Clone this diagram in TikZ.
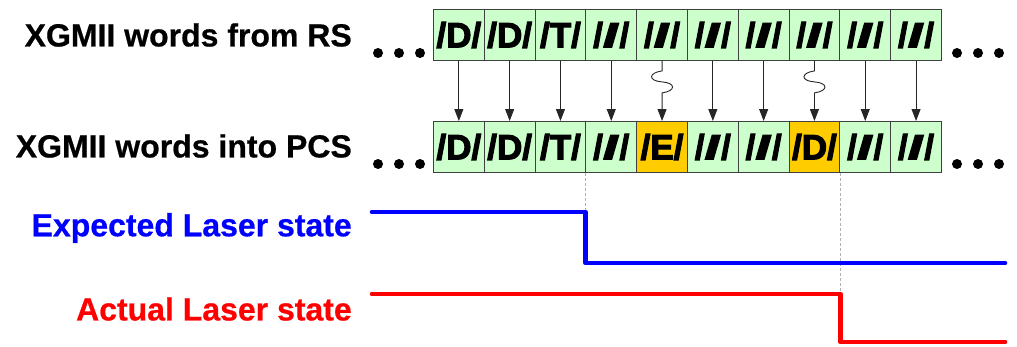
\documentclass[tikz,border=0pt]{standalone}
\usepackage{fontspec}
\setmainfont{Liberation Sans}
\newfontfamily\labelfont[FakeBold=0.6]{Liberation Sans Bold}
\newfontfamily\wordfont[FakeBold=3.2]{Liberation Sans Bold}
\newfontfamily\idlefont[FakeBold=3.2]{Liberation Sans Bold Italic}
\newcommand\idleword{/\scalebox{1.5}[1]{\idlefont I}\kern2pt/}
\usetikzlibrary{arrows.meta}
\definecolor{wordgreen}{HTML}{CCFFCC}
\definecolor{wordorange}{HTML}{FFCC00}
\definecolor{guidegray}{HTML}{B0B0B0}
\begin{document}
\begin{tikzpicture}[x=1pt,y=-1pt,
  word/.style={draw=black!75, line width=0.9pt, fill=wordgreen, minimum width=50.8pt,
    minimum height=51pt, inner sep=0pt, anchor=north west,
    font=\fontsize{35}{40}\selectfont\wordfont},
  errword/.style={word, fill=wordorange},
  rowlabel/.style={anchor=east, inner sep=0pt, font=\fontsize{32}{36}\selectfont\labelfont},
  pass/.style={draw=black!85, line width=0.9pt, -{Triangle[length=12pt,width=9pt]}},
  dot/.style={fill=black, draw=none, circle, minimum size=10pt, inner sep=0pt},
  guide/.style={draw=guidegray, line width=0.8pt, dash pattern=on 3pt off 2pt},
  laser/.style={line width=4.6pt, line cap=round, line join=round}
]
\useasboundingbox (0,0) rectangle (1017,346);

% row labels
\node[rowlabel] (lrs)  at (352,35)  {XGMII words from RS};
\node[rowlabel] (lpcs) at (352,146) {XGMII words into PCS};
\node[rowlabel, text=blue] (lexp) at (352,228) {Expected Laser state};
\node[rowlabel, text=red]  (lact) at (352,309) {Actual Laser state};

% word streams
\foreach \i/\t in {1/D,2/D,3/T} {
  \node[word] (top\i) at ({433+(\i-1)*50.8},9) {/\t/};
  \node[word] (bot\i) at ({433+(\i-1)*50.8},121) {/\t/};
}
\foreach \i in {4,...,10} {
  \node[word] (top\i) at ({433+(\i-1)*50.8},9) {\idleword};
}
\foreach \i in {4,6,7,9,10} {
  \node[word] (bot\i) at ({433+(\i-1)*50.8},121) {\idleword};
}
\node[errword] (bot5) at ({433+4*50.8},121) {/E/};
\node[errword] (bot8) at ({433+7*50.8},121) {/D/};

% straight pass-through
\foreach \i in {1,2,3,4,6,7,9,10} {
  \draw[pass] (top\i.south) -- (bot\i.north);
}
% corrupted words: wavy pass-through
\foreach \i in {5,8} {
  \draw[pass] (top\i.south) -- ++(0,10)
    .. controls +(-14,2) and +(-14,-1) .. ++(0,11)
    .. controls +(14,1) and +(14,-2) .. ++(0,11)
    -- (bot\i.north);
}

% ellipses
\foreach \r/\y in {t/53,b/164} {
  \foreach \k/\x in {1/378,2/399,3/420} {
    \node[dot] (l\r\k) at (\x,\y) {};
  }
  \foreach \k/\x in {1/957,2/978,3/999} {
    \node[dot] (r\r\k) at (\x,\y) {};
  }
}

% laser state traces
\coordinate (e0) at (372,212);
\coordinate (e1) at (bot4.south west |- e0);
\coordinate (e2) at (bot4.south west |- 0,263);
\coordinate (e3) at (1005,263);
\coordinate (a0) at (372,294);
\coordinate (a1) at (bot8.south east |- a0);
\coordinate (a2) at (bot8.south east |- 0,342);
\coordinate (a3) at (1005,342);

\draw[guide] (bot4.south west) -- (e1);
\draw[guide] (bot8.south east) -- (a1);

\draw[laser, blue] (e0) -- (e1) -- (e2) -- (e3);
\draw[laser, red]  (a0) -- (a1) -- (a2) -- (a3);
\end{tikzpicture}
\end{document}
